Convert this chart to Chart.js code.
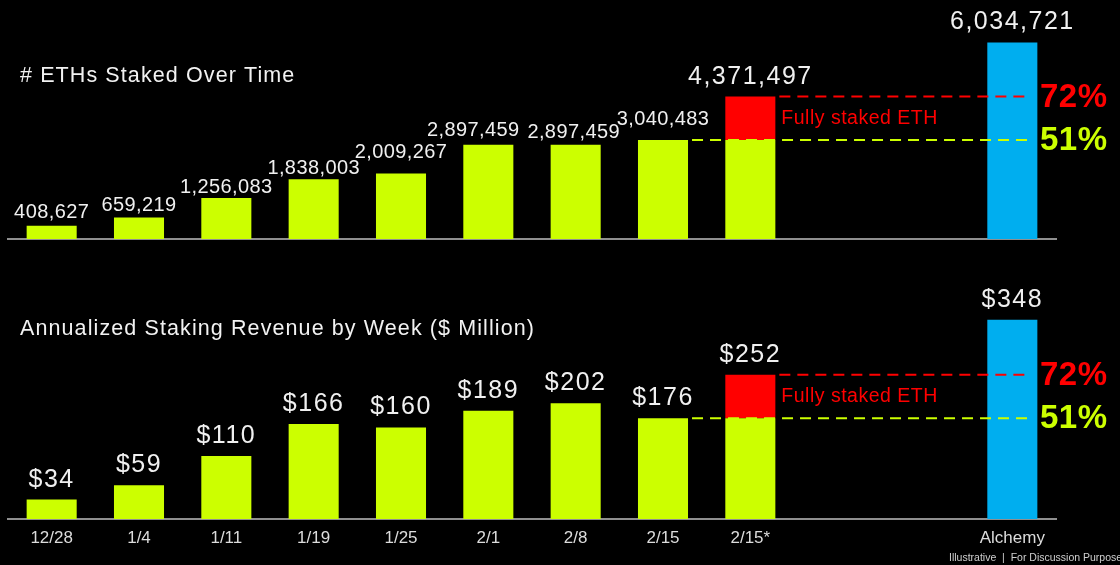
<!DOCTYPE html>
<html>
<head>
  <meta charset="UTF-8">
  <title>ETH Staked and Staking Revenue</title>
  <script src="https://cdn.jsdelivr.net/npm/chart.js"></script>
  <style>
    body { margin: 0; background: #000; width: 1120px; height: 565px; overflow: hidden; }
    canvas { position: absolute; left: 0; }
    #ethChart { top: 0; }
    #revChart { top: 280px; }
  </style>
</head>
<body>
  <canvas id="ethChart" width="1120" height="280"></canvas>
  <canvas id="revChart" width="1120" height="285"></canvas>

  <script>
    // Categories (two empty slots leave the gap before Alchemy)
    const weeks = ['12/28', '1/4', '1/11', '1/19', '1/25', '2/1', '2/8', '2/15', '2/15*', '', '', 'Alchemy'];

    // # ETH staked per week
    const ethStaked = [408627, 659219, 1256083, 1838003, 2009267, 2897459, 2897459, 3040483];
    const ethFullyStaked = 4371497;
    const ethAlchemy = 6034721;

    // Annualized staking revenue ($ million)
    const revenue = [34, 59, 110, 166, 160, 189, 202, 176];
    const revenueFullyStaked = 252;
    const revenueAlchemy = 348;

    const pctFull = '72%';
    const pctCurrent = '51%';

    // hand placement of the weekly ETH labels (gap above bar, sideways nudge)
    const ethLabelGap = [8, 7, 5, 5, 16, 9, 7, 15];
    const ethLabelDx = [0, 0, 0, 0, 0, -15, -2, 0];

    const LIME = '#ccff00';
    const RED = '#ff0000';
    const BLUE = '#00aeef';
    const FONT = '"Liberation Sans", Arial, sans-serif';

    function buildDatasets(weekly, full, alchemy) {
      const n = weekly.length;
      const lime = weekly.concat([weekly[n - 1], null, null, null]);
      const red = weekly.map(() => null).concat([full - weekly[n - 1], null, null, null]);
      const blue = weekly.map(() => null).concat([null, null, null, alchemy]);
      return [
        { data: lime, backgroundColor: LIME },
        { data: red, backgroundColor: RED },
        { data: blue, backgroundColor: BLUE }
      ];
    }

    function text(ctx, str, x, y, font, color, align, baseline, spacing) {
      ctx.save();
      ctx.font = font;
      ctx.fillStyle = color;
      ctx.textAlign = align;
      ctx.textBaseline = baseline;
      ctx.letterSpacing = (spacing || 0) + 'px';
      ctx.fillText(str, x, y);
      ctx.restore();
    }

    // Draws titles, value labels, dashed reference lines and notes
    function annotations(opts) {
      return {
        id: 'annotations',
        afterDatasetsDraw(chart) {
          const ctx = chart.ctx;
          const area = chart.chartArea;
          const lime = chart.getDatasetMeta(0).data;
          const red = chart.getDatasetMeta(1).data;
          const blue = chart.getDatasetMeta(2).data;
          const n = opts.weekly.length;

          text(ctx, opts.title, 20, opts.titleY, '21.5px ' + FONT, '#f2f2f2', 'left', 'middle', 1.1);

          for (let i = 0; i < n; i++) {
            const b = lime[i];
            const gap = opts.gaps ? opts.gaps[i] : opts.gap;
            const dx = opts.dx ? opts.dx[i] : 0;
            text(ctx, opts.fmt(opts.weekly[i]), b.x + dx, b.y - gap, opts.labelFont, '#f0f0f0', 'center', 'alphabetic', opts.labelSpacing);
          }
          const rb = red[n];
          const ab = blue[n + 3];
          text(ctx, opts.fmt(opts.full), rb.x, rb.y - 13, '25px ' + FONT, '#f0f0f0', 'center', 'alphabetic', 1.5);
          text(ctx, opts.fmt(opts.alchemy), ab.x, ab.y - 13, '25px ' + FONT, '#f0f0f0', 'center', 'alphabetic', 1.5);

          // dashed reference lines
          const yRed = rb.y;
          const yLime = lime[n].y;
          const endX = area.right - 27;
          ctx.save();
          ctx.lineWidth = 2;
          ctx.setLineDash([11, 7]);
          ctx.strokeStyle = LIME;
          ctx.beginPath();
          ctx.moveTo(lime[n - 1].x + lime[n - 1].width / 2 + 4, yLime);
          ctx.lineTo(endX, yLime);
          ctx.stroke();
          ctx.strokeStyle = RED;
          ctx.beginPath();
          ctx.moveTo(rb.x + rb.width / 2 + 4, yRed);
          ctx.lineTo(endX, yRed);
          ctx.stroke();
          ctx.restore();

          text(ctx, pctFull, area.right - 16, yRed + 1, 'bold 33px ' + FONT, RED, 'left', 'middle', 0.5);
          text(ctx, pctCurrent, area.right - 16, yLime + 1, 'bold 33px ' + FONT, LIME, 'left', 'middle', 0.5);
          text(ctx, 'Fully staked ETH', rb.x + rb.width / 2 + 6, (yRed + yLime) / 2, '19.5px ' + FONT, RED, 'left', 'middle', 0.5);

          if (opts.footnote) {
            text(ctx, opts.footnote, 949, chart.height - 7, '10.5px ' + FONT, '#cfcfcf', 'left', 'middle', 0);
          }
        }
      };
    }

    function makeChart(id, opts) {
      return new Chart(document.getElementById(id), {
        type: 'bar',
        data: { labels: weeks, datasets: buildDatasets(opts.weekly, opts.full, opts.alchemy) },
        options: {
          responsive: false,
          animation: false,
          devicePixelRatio: 1,
          layout: { padding: { left: 8, right: 64, top: opts.padTop, bottom: opts.padBottom } },
          datasets: { bar: { barPercentage: 0.573, categoryPercentage: 1.0 } },
          plugins: { legend: { display: false }, tooltip: { enabled: false }, title: { display: false } },
          scales: {
            x: {
              stacked: true,
              grid: { display: false, drawTicks: false },
              border: { display: true, color: '#8f8f8f', width: 2 },
              ticks: {
                display: opts.showTicks,
                color: '#dcdcdc',
                padding: 9,
                font: { family: FONT, size: 17 }
              },
              afterFit(scale) { scale.height = opts.axisHeight; }
            },
            y: { stacked: true, display: false, min: 0, max: opts.max }
          }
        },
        plugins: [annotations(opts)]
      });
    }

    makeChart('ethChart', {
      title: '# ETHs Staked Over Time',
      titleY: 76,
      weekly: ethStaked, full: ethFullyStaked, alchemy: ethAlchemy,
      fmt: v => v.toLocaleString('en-US'),
      labelFont: '20px ' + FONT, labelSpacing: 0.4, gaps: ethLabelGap, dx: ethLabelDx,
      max: 7000000, padTop: 11, padBottom: 41, axisHeight: 0, showTicks: false
    });

    makeChart('revChart', {
      title: 'Annualized Staking Revenue by Week ($ Million)',
      titleY: 49,
      weekly: revenue, full: revenueFullyStaked, alchemy: revenueAlchemy,
      fmt: v => '$' + v,
      labelFont: '25px ' + FONT, labelSpacing: 1.5, gap: 13,
      max: 400, padTop: 10, padBottom: 16, axisHeight: 30, showTicks: true,
      footnote: 'Illustrative  |  For Discussion Purposes'
    });
  </script>
</body>
</html>
